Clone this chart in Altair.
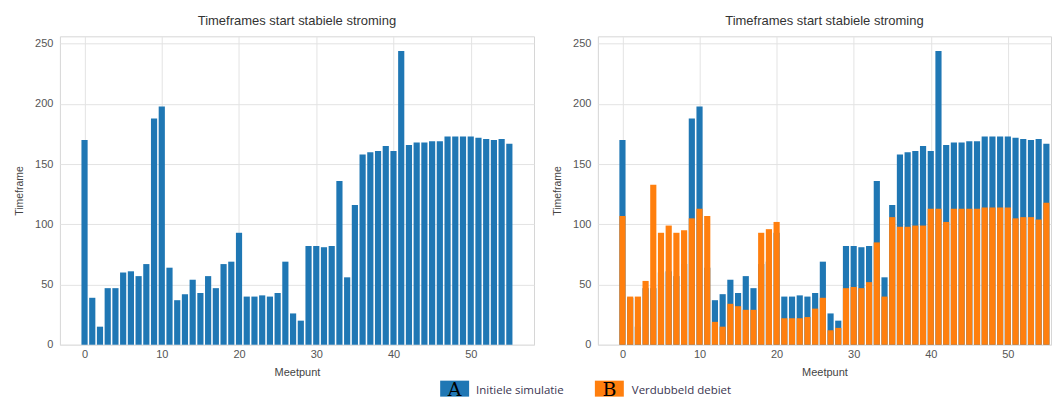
import altair as alt
import pandas as pd

# ---- data ----
meetpunt = list(range(56))
initiele_simulatie = [170, 39, 15, 47, 47, 60, 61, 57, 67, 188,
                      198, 64, 37, 42, 54, 43, 57, 47, 67, 69,
                      93, 40, 40, 41, 40, 43, 69, 26, 20, 82,
                      82, 81, 82, 136, 56, 116, 158, 160, 161, 165,
                      161, 244, 166, 168, 168, 169, 169, 173, 173, 173,
                      173, 172, 171, 170, 171, 167]
verdubbeld_debiet = [107, 40, 40, 53, 133, 93, 99, 93, 95, 105,
                     113, 107, 19, 15, 34, 32, 29, 29, 93, 96,
                     102, 22, 22, 22, 23, 30, 39, 12, 14, 47,
                     48, 47, 52, 85, 40, 106, 98, 98, 99, 99,
                     113, 113, 102, 113, 113, 113, 113, 114, 114, 114,
                     114, 105, 106, 106, 104, 118]
title_text = "Timeframes start stabiele stroming"
x_title = "Meetpunt"
y_title = "Timeframe"
x_ticks = [0, 10, 20, 30, 40, 50]
y_ticks = [0, 50, 100, 150, 200, 250]
legend_index = [0, 1]
legend_letters = ["A", "B"]
legend_labels = ["Initiele simulatie", "Verdubbeld debiet"]

BLUE = "#1f77b4"
ORANGE = "#ff7f0e"
FONT = "Liberation Sans"

df = pd.DataFrame({
    "meetpunt": meetpunt,
    "initiele": initiele_simulatie,
    "verdubbeld": verdubbeld_debiet,
})

Y_DOMAIN = [0, 256.2]
PLOT_H = 309


def panel(series, xdomain, width):
    base = alt.Chart(df).transform_calculate(
        x0="datum.meetpunt - 0.4", x1="datum.meetpunt + 0.4"
    )
    xenc = alt.X(
        "x0:Q",
        scale=alt.Scale(domain=xdomain, nice=False, zero=False),
        axis=alt.Axis(values=x_ticks, title=x_title, format="d",
                      labelPadding=4, titlePadding=7),
    )
    yenc = lambda f: alt.Y(
        f + ":Q",
        scale=alt.Scale(domain=Y_DOMAIN, nice=False),
        axis=alt.Axis(values=y_ticks, title=y_title, labelPadding=7,
                      titlePadding=10),
    )
    layers = [
        base.mark_rect(color=c).encode(
            x=xenc, x2="x1:Q", y=yenc(f), y2=alt.datum(0)
        )
        for f, c in series
    ]
    return alt.layer(*layers).properties(
        width=width,
        height=PLOT_H,
        title=alt.Title(title_text, fontSize=13, fontWeight="normal",
                        color="#333333", font=FONT, offset=8),
        view=alt.ViewBackground(stroke="#d6d6d6", strokeWidth=1),
    )


left = panel([("initiele", BLUE)], [-3.19, 58.19], 475)
right = panel([("initiele", BLUE), ("verdubbeld", ORANGE)], [-3.19, 55.6], 454)

top = alt.hconcat(left, right, spacing=17)

# legend row (its plot area is aligned with the left panel's plot area)
leg_df = pd.DataFrame({"i": legend_index, "letter": legend_letters,
                       "label": legend_labels, "color": [BLUE, ORANGE]})
leg = alt.Chart(leg_df)
box_scale = alt.Scale(domain=[0, 1], range=[395.5, 550.5])
lab_scale = alt.Scale(domain=[0, 1], range=[417, 573])
boxes = leg.mark_rect(width=29, height=16).encode(
    x=alt.X("i:Q", scale=box_scale, axis=None),
    y=alt.value(8),
    color=alt.Color("color:N", scale=None),
)
letters = leg.mark_text(font="DejaVu Serif", fontSize=19, color="black",
                        baseline="bottom").encode(
    x=alt.X("i:Q", scale=box_scale, axis=None),
    y=alt.value(19),
    text="letter:N",
)
labels = leg.mark_text(font="Open Sans", fontSize=11.5, color="#3a3550",
                       align="left", baseline="middle").encode(
    x=alt.X("i:Q", scale=lab_scale, axis=None),
    y=alt.value(10),
    text="label:N",
)
legend_row = alt.layer(boxes, letters, labels).resolve_scale(
    x="independent"
).properties(
    width=600, height=16,
    view=alt.ViewBackground(stroke="transparent"),
)

chart = alt.vconcat(top, legend_row, spacing=1).configure(
    padding={"left": 6, "top": 6, "right": 0, "bottom": 0},
    font=FONT,
).configure_axis(
    grid=True, gridColor="#e3e3e3", gridWidth=1, domain=False, ticks=False,
    labelFont=FONT, titleFont=FONT, labelFontSize=11, titleFontSize=11,
    labelColor="#555555", titleColor="#444444", titleFontWeight="normal",
).configure_axisY(titleFontSize=10.5)

chart.save("out.html", embed_options={"renderer": "svg", "actions": False})
